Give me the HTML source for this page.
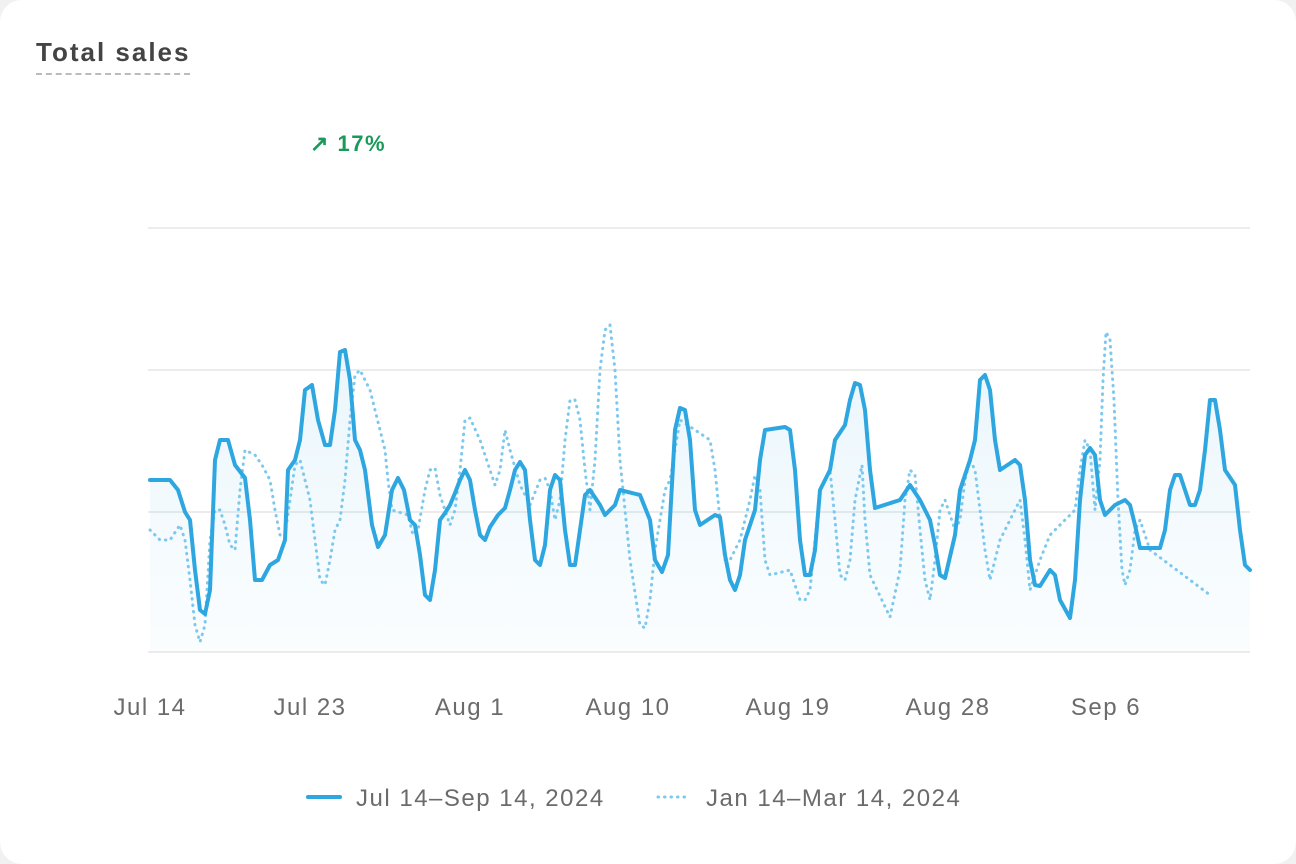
<!DOCTYPE html>
<html><head><meta charset="utf-8"><style>
body{margin:0;background:#f1f1f1;width:1296px;height:864px;overflow:hidden;font-family:"Liberation Sans",sans-serif}
.card{position:absolute;left:0;top:0;width:1296px;height:864px;background:#fff;border-radius:22px}
.t{position:absolute;white-space:nowrap}
</style></head><body><div class="card"></div>
<div class="t" style="left:36px;top:37px;font-size:26px;font-weight:bold;color:#444;letter-spacing:2px;border-bottom:2px dashed #bbb;padding-bottom:5px">Total sales</div>
<div class="t" style="left:310px;top:131px;font-size:22px;font-weight:bold;color:#1a9a5a;letter-spacing:1.5px">↗ 17%</div>
<svg width="1296" height="864" style="position:absolute;left:0;top:0">
<defs><linearGradient id="g" x1="0" y1="0" x2="0" y2="1"><stop offset="0" stop-color="#2ea6e0" stop-opacity="0.1"/><stop offset="1" stop-color="#2ea6e0" stop-opacity="0.02"/></linearGradient></defs>
<g stroke="#ececec" stroke-width="2"><line x1="148" y1="228" x2="1250" y2="228"/><line x1="148" y1="370" x2="1250" y2="370"/><line x1="148" y1="512" x2="1250" y2="512"/><line x1="148" y1="652" x2="1250" y2="652"/></g>
<polygon fill="url(#g)" points="150,652 150,480 170,480 178,490 185,512 190,520 195,570 200,610 205,614 210,590 215,460 220,440 228,440 235,465 245,478 250,520 255,580 262,580 270,565 278,560 285,540 288,470 295,460 300,440 305,390 312,385 318,420 325,445 330,445 335,410 340,352 345,350 350,380 355,440 360,450 365,470 372,525 378,547 385,535 392,490 398,478 404,490 410,520 415,525 420,555 425,595 430,600 435,570 440,520 445,513 450,505 455,493 460,480 465,470 470,480 475,510 480,535 485,540 490,527 498,515 505,508 510,490 515,470 520,462 525,470 530,520 535,560 540,565 545,545 550,490 555,475 560,480 565,530 570,565 575,565 580,530 585,495 590,490 600,505 605,515 615,505 620,490 640,495 650,520 655,560 662,572 668,555 675,430 680,408 685,410 690,440 695,510 700,525 715,515 720,517 725,555 730,580 735,590 740,575 745,540 755,510 760,460 765,430 785,427 790,430 795,470 800,540 805,575 810,575 815,550 820,490 830,470 835,440 845,425 850,400 855,383 860,385 865,410 870,470 875,508 900,500 910,485 920,500 930,520 935,545 940,575 945,578 955,535 960,490 970,460 975,440 980,380 985,375 990,390 995,440 1000,470 1015,460 1020,465 1025,500 1030,560 1035,585 1040,586 1050,570 1055,575 1060,600 1070,618 1075,580 1080,500 1085,455 1090,448 1095,455 1100,500 1105,515 1115,505 1125,500 1130,505 1135,525 1140,548 1160,548 1165,530 1170,490 1175,475 1180,475 1190,505 1195,505 1200,490 1205,450 1210,400 1215,400 1220,430 1225,470 1235,485 1240,530 1245,565 1250,570 1250,652"/>
<polyline fill="none" stroke="#7cc8ee" stroke-width="3" stroke-dasharray="0.5 6" stroke-linecap="round" stroke-linejoin="round" points="150,530 160,540 170,540 180,525 185,540 190,580 195,625 200,642 205,625 210,540 215,510 220,510 225,525 230,545 235,550 240,490 245,450 255,455 262,465 270,480 275,510 280,535 285,535 290,500 295,465 300,460 305,480 310,500 315,540 320,580 325,585 330,560 335,530 340,520 345,480 350,420 355,375 360,370 370,390 380,430 385,450 388,480 392,510 408,515 413,535 418,530 425,490 430,470 435,468 440,495 450,525 455,510 460,470 465,420 470,418 480,440 490,470 495,485 500,470 505,430 510,450 520,485 530,505 540,480 545,478 550,490 555,520 560,500 565,440 570,400 575,400 580,420 585,470 590,510 595,460 600,370 605,330 610,325 615,370 620,460 630,560 640,625 645,628 650,600 655,550 665,490 670,480 680,420 710,440 715,470 720,520 725,560 730,560 740,540 750,500 755,475 760,490 765,560 770,575 790,570 800,600 805,600 810,590 815,540 820,490 830,470 835,520 840,575 845,580 850,560 855,500 862,465 865,520 870,575 890,617 900,570 905,500 910,470 915,475 920,530 925,580 930,600 935,560 940,510 945,500 955,530 960,520 965,480 970,460 975,470 985,550 990,580 1000,540 1020,500 1025,540 1030,590 1040,560 1050,535 1075,510 1080,470 1085,440 1090,450 1095,510 1100,460 1103,380 1106,332 1110,340 1114,400 1118,500 1122,570 1125,585 1130,570 1135,530 1140,520 1150,550 1210,595"/>
<polyline fill="none" stroke="#2ea6e0" stroke-width="4" stroke-linecap="round" stroke-linejoin="round" points="150,480 170,480 178,490 185,512 190,520 195,570 200,610 205,614 210,590 215,460 220,440 228,440 235,465 245,478 250,520 255,580 262,580 270,565 278,560 285,540 288,470 295,460 300,440 305,390 312,385 318,420 325,445 330,445 335,410 340,352 345,350 350,380 355,440 360,450 365,470 372,525 378,547 385,535 392,490 398,478 404,490 410,520 415,525 420,555 425,595 430,600 435,570 440,520 445,513 450,505 455,493 460,480 465,470 470,480 475,510 480,535 485,540 490,527 498,515 505,508 510,490 515,470 520,462 525,470 530,520 535,560 540,565 545,545 550,490 555,475 560,480 565,530 570,565 575,565 580,530 585,495 590,490 600,505 605,515 615,505 620,490 640,495 650,520 655,560 662,572 668,555 675,430 680,408 685,410 690,440 695,510 700,525 715,515 720,517 725,555 730,580 735,590 740,575 745,540 755,510 760,460 765,430 785,427 790,430 795,470 800,540 805,575 810,575 815,550 820,490 830,470 835,440 845,425 850,400 855,383 860,385 865,410 870,470 875,508 900,500 910,485 920,500 930,520 935,545 940,575 945,578 955,535 960,490 970,460 975,440 980,380 985,375 990,390 995,440 1000,470 1015,460 1020,465 1025,500 1030,560 1035,585 1040,586 1050,570 1055,575 1060,600 1070,618 1075,580 1080,500 1085,455 1090,448 1095,455 1100,500 1105,515 1115,505 1125,500 1130,505 1135,525 1140,548 1160,548 1165,530 1170,490 1175,475 1180,475 1190,505 1195,505 1200,490 1205,450 1210,400 1215,400 1220,430 1225,470 1235,485 1240,530 1245,565 1250,570"/>
<g font-family="Liberation Sans" font-size="24" fill="#6b6b6b" text-anchor="middle" letter-spacing="1.5">
<text x="150" y="715">Jul 14</text><text x="310" y="715">Jul 23</text><text x="470" y="715">Aug 1</text><text x="628" y="715">Aug 10</text><text x="788" y="715">Aug 19</text><text x="948" y="715">Aug 28</text><text x="1106" y="715">Sep 6</text>
</g>
<line x1="308" y1="797" x2="340" y2="797" stroke="#2ea6e0" stroke-width="4" stroke-linecap="round"/>
<line x1="658" y1="797" x2="690" y2="797" stroke="#7cc8ee" stroke-width="3" stroke-dasharray="0.5 6" stroke-linecap="round"/>
<g font-family="Liberation Sans" font-size="24" fill="#6b6b6b" letter-spacing="1.5"><text x="356" y="806">Jul 14–Sep 14, 2024</text><text x="706" y="806">Jan 14–Mar 14, 2024</text></g>
</svg>
</body></html>
